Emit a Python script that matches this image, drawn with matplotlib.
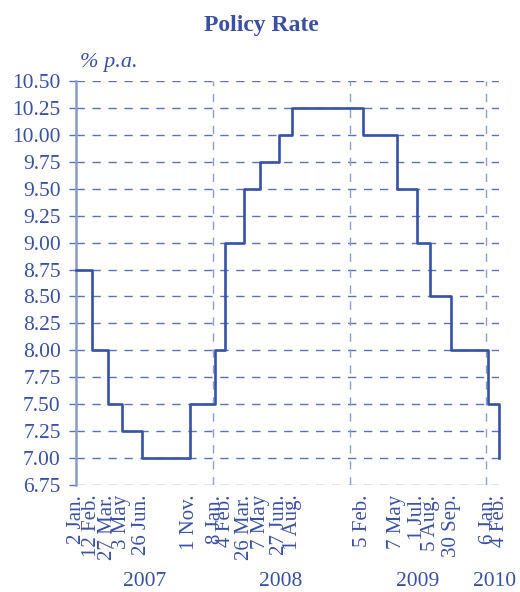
import matplotlib
matplotlib.use("Agg")
import matplotlib.pyplot as plt
import matplotlib.transforms as mtransforms
import numpy as np
from datetime import datetime

# Policy rate changes (date, % p.a.)
change_dates = ["2007-01-02", "2007-02-12", "2007-03-27", "2007-05-03", "2007-06-26",
                "2007-11-01", "2008-01-08", "2008-02-04", "2008-03-26", "2008-05-07",
                "2008-06-27", "2008-08-01", "2009-02-05", "2009-05-07", "2009-07-01",
                "2009-08-05", "2009-09-30", "2010-01-06", "2010-02-04"]
rates = [8.75, 8.00, 7.50, 7.25, 7.00,
         7.50, 8.00, 9.00, 9.50, 9.75,
         10.00, 10.25, 10.00, 9.50, 9.00,
         8.50, 8.00, 7.50, 7.00]
tick_labels = ["2 Jan.", "12 Feb.", "27 Mar.", "3 May", "26 Jun.",
               "1 Nov.", "8 Jan.", "4 Feb.", "26 Mar.", "7 May",
               "27 Jun.", "1 Aug.", "5 Feb.", "7 May", "1 Jul.",
               "5 Aug.", "30 Sep.", "6 Jan.", "4 Feb."]
years = ["2007", "2008", "2009", "2010"]
year_label_dates = ["2007-07-02", "2008-07-01", "2009-07-02", "2010-01-24"]
year_starts = ["2008-01-01", "2009-01-01", "2010-01-01"]
y_ticks = np.arange(6.75, 10.51, 0.25)

text_col = "#3a50a2"
line_col = "#3552a6"
grid_col = "#5b72b9"
vgrid_col = "#8d9ecf"
spine_col = "#8a99cd"

plt.rcParams["font.family"] = ["Liberation Serif", "DejaVu Serif"]
plt.rcParams["lines.scale_dashes"] = False

dates = [datetime.strptime(d, "%Y-%m-%d") for d in change_dates]

fig = plt.figure(figsize=(5.2, 5.92), dpi=100)
ax = fig.add_axes([76 / 520, 1 - 485 / 592, 423 / 520, 404 / 592])

# horizontal dashed grid
for y in y_ticks:
    ax.axhline(y, color=grid_col, lw=1.0, dashes=(6, 5.5), zorder=1)

# vertical year separators
for d in year_starts:
    ax.axvline(datetime.strptime(d, "%Y-%m-%d"), color=vgrid_col, lw=1.0,
               dashes=(6, 5.5), zorder=1)

ax.step(dates, rates, where="post", color=line_col, lw=1.9, zorder=3, clip_on=False)

ax.set_xlim(datetime(2007, 1, 1), datetime(2010, 1, 27))
ax.set_ylim(6.75, 10.5)
ax.set_yticks(y_ticks)
ax.set_yticklabels([f"{v:.2f}" for v in y_ticks])
ax.set_xticks(dates)
ax.set_xticklabels(tick_labels, rotation=90, va="top", ha="center")

for s in ["top", "right", "bottom"]:
    ax.spines[s].set_visible(False)
ax.spines["left"].set_color(spine_col)
ax.spines["left"].set_linewidth(1.8)

ax.tick_params(axis="y", colors=grid_col, labelcolor=text_col, labelsize=15.5,
               length=5, width=1.0, pad=6)
ax.tick_params(axis="x", length=0, labelcolor=text_col, labelsize=15, pad=7)

trans = mtransforms.blended_transform_factory(ax.transData, fig.transFigure)
for yr, d in zip(years, year_label_dates):
    ax.text(datetime.strptime(d, "%Y-%m-%d"), 1 - 582 / 592, yr, transform=trans,
            ha="center", va="center", fontsize=15.5, color=text_col)

fig.text(261 / 520, 1 - 25 / 592, "Policy Rate", ha="center", va="center",
         fontsize=17, fontweight="bold", color=text_col)
fig.text(80 / 520, 1 - 63 / 592, "% p.a.", ha="left", va="center",
         fontsize=16, fontstyle="italic", color=text_col)

fig.savefig("out.png", dpi=100)
